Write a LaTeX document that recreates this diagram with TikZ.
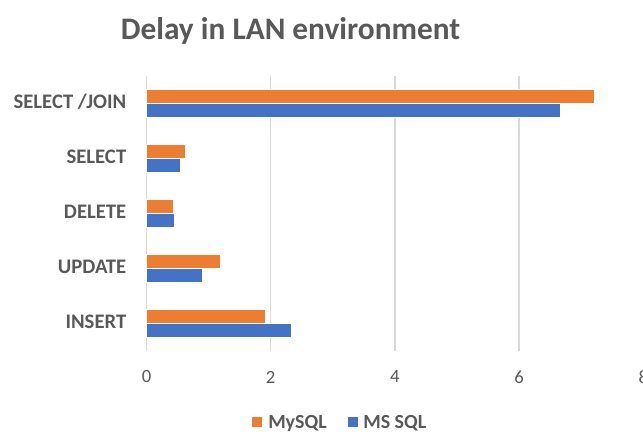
\documentclass[tikz,border=0pt]{standalone}
\usepackage{fontspec}
\setmainfont{Carlito}
\definecolor{txtgray}{HTML}{595959}
\definecolor{gridgray}{HTML}{D9D9D9}
\definecolor{mysqlc}{HTML}{ED7D31}
\definecolor{mssqlc}{HTML}{4472C4}
\begin{document}
\begin{tikzpicture}[x=0.75pt,y=-0.75pt,
  grid/.style={draw=gridgray,line width=1pt},
  catlabel/.style={anchor=east,font=\fontsize{15.5}{18}\selectfont\bfseries,text=txtgray,inner sep=0pt},
  ticklabel/.style={anchor=center,font=\fontsize{14}{16}\selectfont,text=txtgray,inner sep=0pt},
  legtext/.style={anchor=base west,font=\fontsize{15}{18}\selectfont\bfseries,text=txtgray,inner sep=0pt},
  barmy/.style={fill=mysqlc,draw=white,line width=0.4pt},
  barms/.style={fill=mssqlc,draw=white,line width=0.4pt}]
\useasboundingbox (0,0) rectangle (643,432);
\clip (0,0) rectangle (643,432);
% title
\node[anchor=base,font=\fontsize{23.5}{26}\selectfont\bfseries,text=txtgray,inner sep=0pt] (title) at (290.5,39.5) {Delay in LAN environment};
% gridlines
\foreach \i/\v in {0/0,1/2,2/4,3/6,4/8}{
  \draw[grid] ({146.5+124.2*\i},76) -- ({146.5+124.2*\i},351);
  \node[ticklabel] (tick\i) at ({146.5+124.2*\i},377) {\v};
}
% bars: value -> x = 146.5 + 62.1*value
\foreach \k/\name/\my/\ms in {0/{SELECT /JOIN}/7.21/6.67,1/SELECT/0.63/0.54,2/DELETE/0.43/0.44,3/UPDATE/1.18/0.90,4/INSERT/1.92/2.33}{
  \pgfmathsetmacro{\cy}{103.5+55*\k}
  \draw[barmy] (146.5,\cy-13.75) rectangle ({146.5+62.1*\my},\cy);
  \draw[barms] (146.5,\cy) rectangle ({146.5+62.1*\ms},\cy+13.75);
  \node[catlabel] (cat\k) at (126.5,\cy-1.5) {\name};
}
% legend
\fill[mysqlc] (251.7,417) rectangle (261.7,427);
\node[legtext] (legmy) at (268,428) {MySQL};
\fill[mssqlc] (347.7,417) rectangle (357.7,427);
\node[legtext] (legms) at (363,428) {MS SQL};
\end{tikzpicture}
\end{document}
